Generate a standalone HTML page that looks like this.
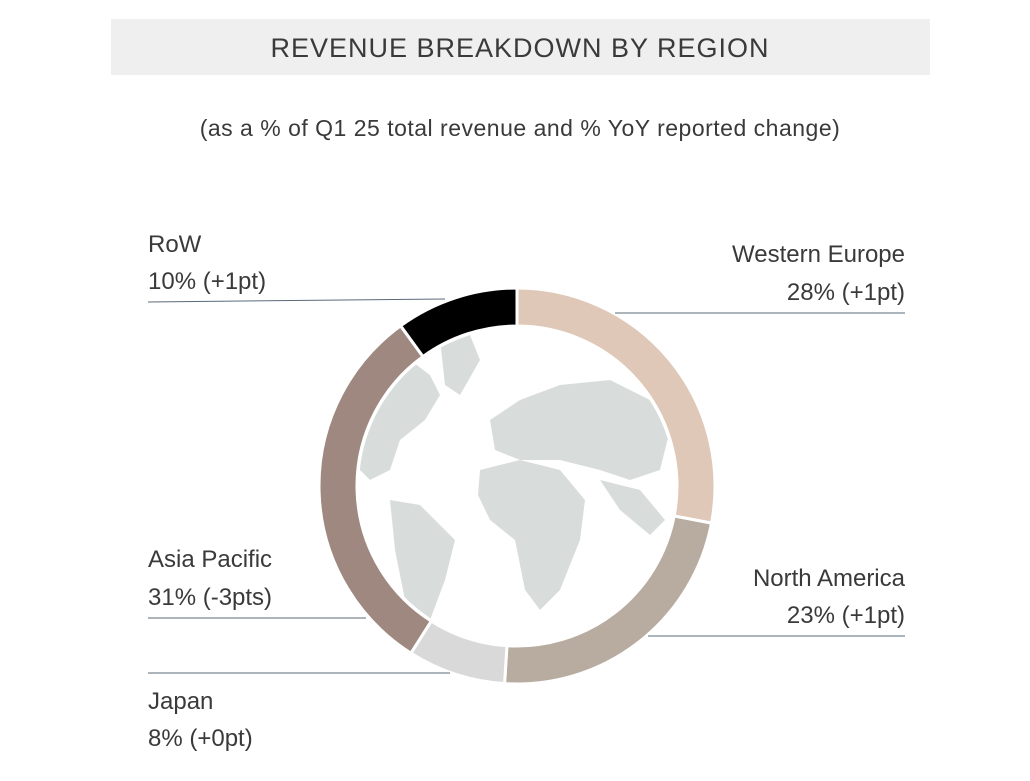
<!DOCTYPE html>
<html><head><meta charset="utf-8"><style>
body{margin:0;background:#fff;width:1030px;height:776px;overflow:hidden;font-family:"Liberation Sans",sans-serif;}
svg text{font-family:"Liberation Sans",sans-serif;fill:#3a3a3a;}
</style></head><body>
<svg width="1030" height="776" viewBox="0 0 1030 776">
<rect x="111" y="19" width="819" height="56" fill="#efefef"/>
<text x="520" y="57" text-anchor="middle" font-size="27" letter-spacing="1" fill="#222">REVENUE BREAKDOWN BY REGION</text>
<text x="520" y="136" text-anchor="middle" font-size="23" letter-spacing="0.5" fill="#444">(as a % of Q1 25 total revenue and % YoY reported change)</text>
<g id="globe">
<circle cx="517" cy="486" r="160" fill="#fff"/>
<clipPath id="gc"><circle cx="517" cy="486" r="158"/></clipPath>
<g clip-path="url(#gc)" fill="#d8dddc">
<path d="M355 390 L380 370 L410 360 L430 375 L440 395 L425 420 L400 440 L390 470 L370 480 L360 470 Z"/>
<path d="M440 340 L470 335 L480 360 L460 395 L445 385 Z"/>
<path d="M390 500 L420 505 L455 540 L445 580 L430 620 L415 635 L405 600 L395 550 Z"/>
<path d="M490 420 L520 400 L560 385 L610 380 L650 400 L670 430 L660 470 L630 480 L600 470 L560 460 L520 460 L495 450 Z"/>
<path d="M480 470 L520 460 L560 470 L585 500 L580 540 L560 590 L540 610 L525 590 L515 540 L490 520 L478 495 Z"/>
<path d="M600 480 L640 490 L665 520 L650 535 L620 510 Z"/>
</g></g>
<g id="ring"></g>
<g stroke="#5a6a7a" stroke-width="1">
<line x1="148" y1="302" x2="445" y2="299"/>
<line x1="615" y1="313" x2="905" y2="313"/>
<line x1="648" y1="636" x2="905" y2="636"/>
<line x1="148" y1="618" x2="366" y2="618"/>
<line x1="148" y1="673" x2="450" y2="673"/>
</g>
<g font-size="24">
<text x="148" y="252">RoW</text>
<text x="148" y="289">10% (+1pt)</text>
<text x="905" y="262" text-anchor="end">Western Europe</text>
<text x="905" y="300" text-anchor="end">28% (+1pt)</text>
<text x="905" y="586" text-anchor="end">North America</text>
<text x="905" y="623" text-anchor="end">23% (+1pt)</text>
<text x="148" y="567">Asia Pacific</text>
<text x="148" y="605">31% (-3pts)</text>
<text x="148" y="709">Japan</text>
<text x="148" y="746">8% (+0pt)</text>
</g>
</svg>
<script>
const categories=["Western Europe","North America","Japan","Asia Pacific","RoW"];
const shares=[28,23,8,31,10];
const colors=["#dfc8b7","#b8aca1","#d9d9d9","#9e8880","#000000"];
const cx=517,cy=486,R=198,r=160;
const g=document.getElementById('ring');
const total=shares.reduce((a,b)=>a+b,0);
function pt(a,rad){return [cx+rad*Math.sin(a),cy-rad*Math.cos(a)];}
let acc=0;
shares.forEach((v,i)=>{
  const a0=acc/total*2*Math.PI;acc+=v;const a1=acc/total*2*Math.PI;
  const lg=(a1-a0)>Math.PI?1:0;
  const p0=pt(a0,R),p1=pt(a1,R),q1=pt(a1,r),q0=pt(a0,r);
  const p=document.createElementNS('http://www.w3.org/2000/svg','path');
  p.setAttribute('d',`M${p0[0]} ${p0[1]} A${R} ${R} 0 ${lg} 1 ${p1[0]} ${p1[1]} L${q1[0]} ${q1[1]} A${r} ${r} 0 ${lg} 0 ${q0[0]} ${q0[1]} Z`);
  p.setAttribute('fill',colors[i]);
  p.setAttribute('stroke','#fff');
  p.setAttribute('stroke-width','3');
  
  
  g.appendChild(p);
});
</script>
</body></html>
